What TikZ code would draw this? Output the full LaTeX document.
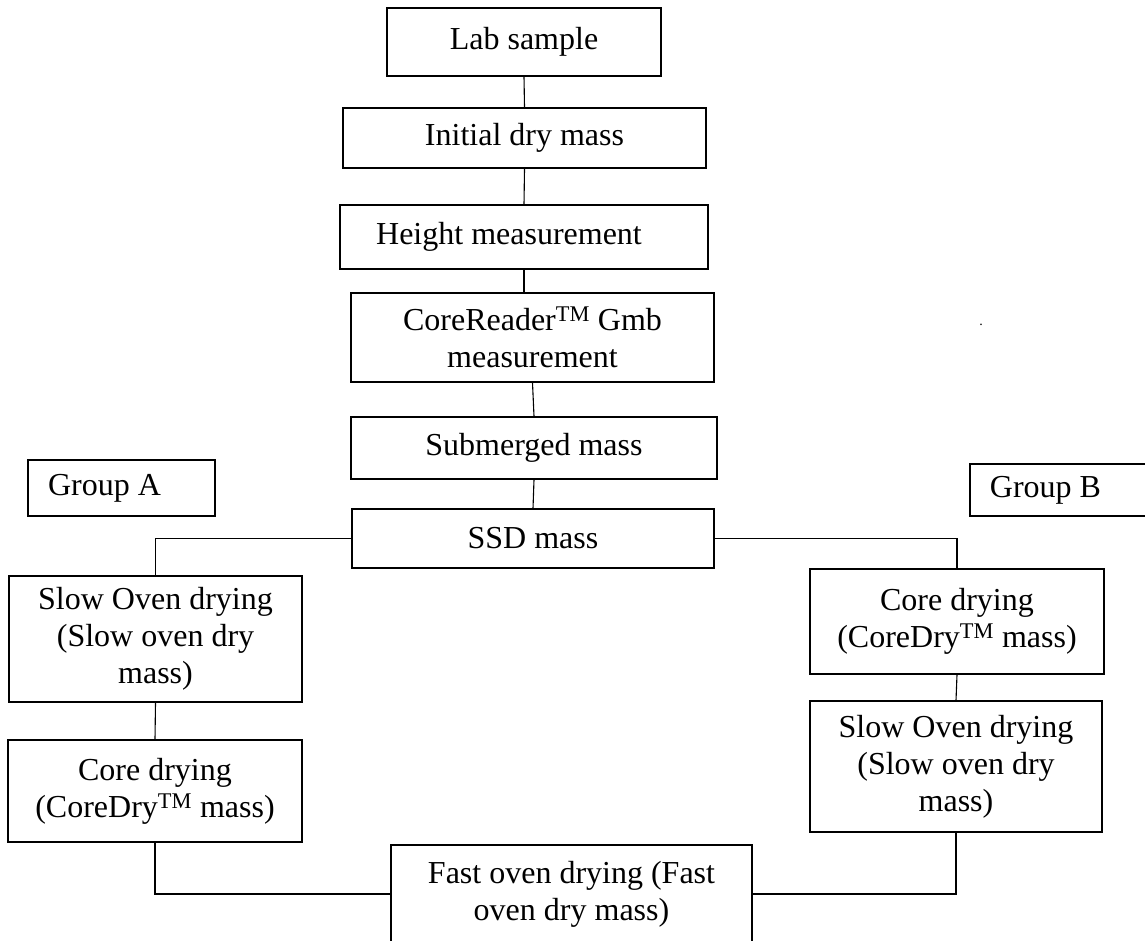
\documentclass[tikz,border=0pt]{standalone}
\usepackage{fontspec}
\setmainfont{Liberation Serif}
\begin{document}
\begin{tikzpicture}[x=1pt,y=-1pt,
  box/.style={draw, line width=1.5pt, inner sep=0pt, font=\fontsize{32}{37}\selectfont},
  mbox/.style={box, align=center},
  link/.style={draw, line width=1.1pt}]
\useasboundingbox[fill=white] (0,0) rectangle (1145,940);
% main column
\node[box, minimum width=274pt, minimum height=68pt] (lab) at (524,42) {Lab sample};
\node[box, minimum width=363pt, minimum height=60pt] (init) at (524.5,138) {Initial dry mass};
\node[box, minimum width=368pt, minimum height=64pt] (height) at (524,237) {Height measurement\kern30pt};
\node[mbox, minimum width=363pt, minimum height=89pt] (creader) at (532.5,337.5) {CoreReader\textsuperscript{TM} Gmb\\measurement};
\node[box, minimum width=366pt, minimum height=62pt] (submerged) at (534,448) {Submerged mass};
\node[box, minimum width=362pt, minimum height=59pt] (ssd) at (533,538.5) {SSD mass};
% groups
\node[box, minimum width=187pt, minimum height=56pt] (groupA) at (121.5,488) {Group A\kern34pt};
\node[box, minimum width=190pt, minimum height=52pt] (groupB) at (1065,490) {Group B\kern39pt};
\node[font=\fontsize{14}{16}\selectfont, inner sep=0pt] (dot) at (981,325) {.};
% left branch
\node[mbox, minimum width=293pt, minimum height=126pt] (slowA) at (155.5,639) {Slow Oven drying\\(Slow oven dry\\mass)};
\node[mbox, minimum width=294pt, minimum height=102pt] (coreA) at (155,791) {Core drying\\(CoreDry\textsuperscript{TM} mass)};
% right branch
\node[mbox, minimum width=294pt, minimum height=105pt] (coreB) at (957,621.5) {Core drying\\(CoreDry\textsuperscript{TM} mass)};
\node[mbox, minimum width=292pt, minimum height=131pt] (slowB) at (956,766.5) {Slow Oven drying\\(Slow oven dry\\mass)};
% bottom
\node[mbox, minimum width=361pt, minimum height=98pt] (fast) at (571.5,894) {Fast oven drying (Fast\\oven dry mass)};
% connectors
\draw[link] (lab.south) -- (init.north);
\draw[link] (init.south) -- (height.north);
\draw[link] (height.south) -- (height.south |- creader.north);
\draw[link] (creader.south) -- (submerged.north);
\draw[link] (submerged.south) -- (ssd.north);
\draw[link] (ssd.west) -| (slowA.north);
\draw[link] (ssd.east) -| (coreB.north);
\draw[link] (slowA.south) -- (coreA.north);
\draw[link] (coreB.south) -- (slowB.north);
\draw[link] (coreA.south) |- (fast.west);
\draw[link] (slowB.south) |- (fast.east);
\end{tikzpicture}
\end{document}
